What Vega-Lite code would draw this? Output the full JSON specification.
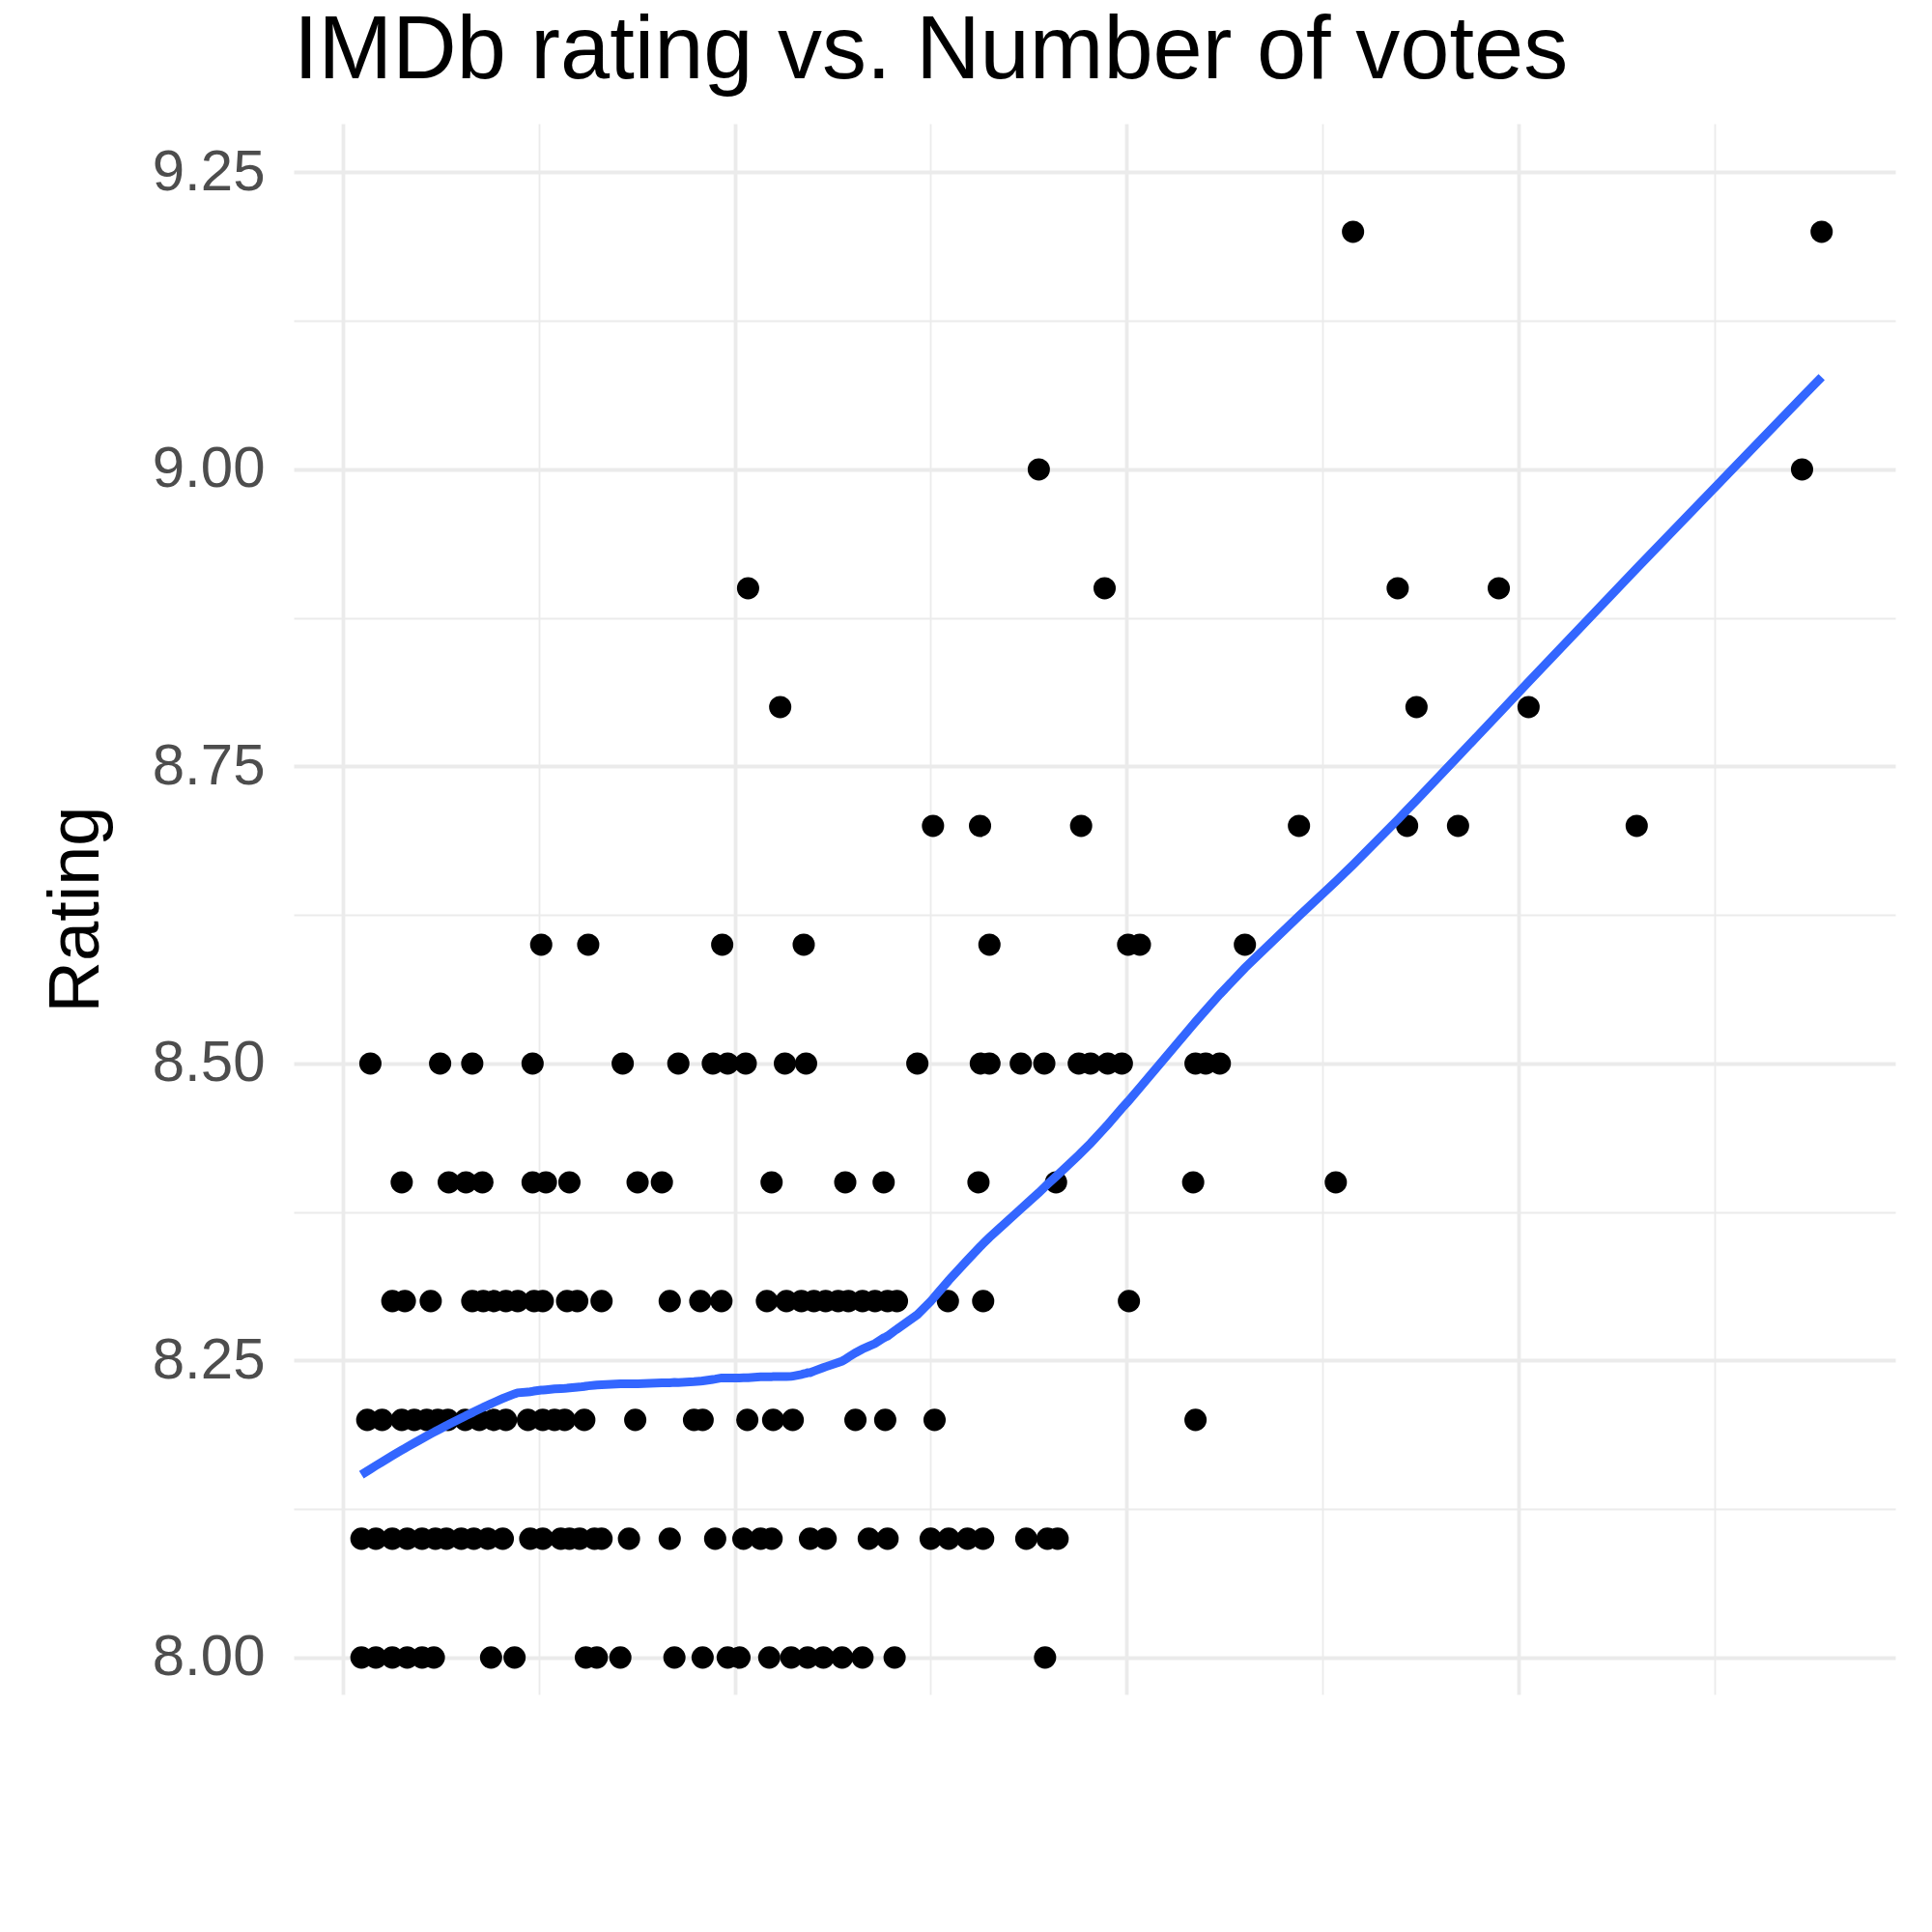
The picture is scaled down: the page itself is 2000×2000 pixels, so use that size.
{
  "$schema": "https://vega.github.io/schema/vega-lite/v6.json",
  "autosize": "none",
  "padding": {"left": 304, "top": 128, "right": 40, "bottom": 40},
  "width": 1658,
  "height": 1626,
  "background": "white",
  "config": {
    "view": {"stroke": null},
    "font": "Liberation Sans",
    "axis": {"domain": false, "ticks": false, "labelFont": "Liberation Sans", "titleFont": "Liberation Sans", "labelColor": "#4d4d4d", "labelFontSize": 60, "titleFontSize": 74, "titleFontWeight": "normal", "titleColor": "black", "gridColor": "#ebebeb"}
  },
  "title": {"text": "IMDb rating vs. Number of votes", "anchor": "start", "frame": "group", "fontSize": 92, "fontWeight": "normal", "font": "Liberation Sans", "offset": 28, "color": "black"},
  "data": {"values": [
    {"votes": 1289000, "rating": 9.2}, {"votes": 1887000, "rating": 9.2},
    {"votes": 888000, "rating": 9.0}, {"votes": 1862000, "rating": 9.0},
    {"votes": 517000, "rating": 8.9}, {"votes": 972000, "rating": 8.9}, {"votes": 1346000, "rating": 8.9}, {"votes": 1475000, "rating": 8.9},
    {"votes": 558000, "rating": 8.8}, {"votes": 1370000, "rating": 8.8}, {"votes": 1513000, "rating": 8.8},
    {"votes": 753000, "rating": 8.7}, {"votes": 813000, "rating": 8.7}, {"votes": 942000, "rating": 8.7}, {"votes": 1220000, "rating": 8.7}, {"votes": 1358000, "rating": 8.7}, {"votes": 1423000, "rating": 8.7}, {"votes": 1651000, "rating": 8.7},
    {"votes": 253000, "rating": 8.6}, {"votes": 313000, "rating": 8.6}, {"votes": 484000, "rating": 8.6}, {"votes": 588000, "rating": 8.6}, {"votes": 825000, "rating": 8.6}, {"votes": 1002000, "rating": 8.6}, {"votes": 1017000, "rating": 8.6}, {"votes": 1151000, "rating": 8.6},
    {"votes": 35000, "rating": 8.5}, {"votes": 124000, "rating": 8.5}, {"votes": 165000, "rating": 8.5}, {"votes": 242000, "rating": 8.5}, {"votes": 357000, "rating": 8.5}, {"votes": 428000, "rating": 8.5}, {"votes": 472000, "rating": 8.5}, {"votes": 491000, "rating": 8.5}, {"votes": 514000, "rating": 8.5}, {"votes": 564000, "rating": 8.5}, {"votes": 591000, "rating": 8.5}, {"votes": 733000, "rating": 8.5}, {"votes": 814000, "rating": 8.5}, {"votes": 825000, "rating": 8.5}, {"votes": 865000, "rating": 8.5}, {"votes": 895000, "rating": 8.5}, {"votes": 939000, "rating": 8.5}, {"votes": 954000, "rating": 8.5}, {"votes": 976000, "rating": 8.5}, {"votes": 994000, "rating": 8.5}, {"votes": 1088000, "rating": 8.5}, {"votes": 1101000, "rating": 8.5}, {"votes": 1119000, "rating": 8.5},
    {"votes": 75000, "rating": 8.4}, {"votes": 135000, "rating": 8.4}, {"votes": 157000, "rating": 8.4}, {"votes": 178000, "rating": 8.4}, {"votes": 242000, "rating": 8.4}, {"votes": 259000, "rating": 8.4}, {"votes": 289000, "rating": 8.4}, {"votes": 376000, "rating": 8.4}, {"votes": 407000, "rating": 8.4}, {"votes": 547000, "rating": 8.4}, {"votes": 641000, "rating": 8.4}, {"votes": 690000, "rating": 8.4}, {"votes": 811000, "rating": 8.4}, {"votes": 910000, "rating": 8.4}, {"votes": 1085000, "rating": 8.4}, {"votes": 1267000, "rating": 8.4},
    {"votes": 63000, "rating": 8.3}, {"votes": 79000, "rating": 8.3}, {"votes": 112000, "rating": 8.3}, {"votes": 165000, "rating": 8.3}, {"votes": 179000, "rating": 8.3}, {"votes": 192000, "rating": 8.3}, {"votes": 208000, "rating": 8.3}, {"votes": 223000, "rating": 8.3}, {"votes": 244000, "rating": 8.3}, {"votes": 255000, "rating": 8.3}, {"votes": 286000, "rating": 8.3}, {"votes": 299000, "rating": 8.3}, {"votes": 330000, "rating": 8.3}, {"votes": 417000, "rating": 8.3}, {"votes": 456000, "rating": 8.3}, {"votes": 483000, "rating": 8.3}, {"votes": 541000, "rating": 8.3}, {"votes": 566000, "rating": 8.3}, {"votes": 585000, "rating": 8.3}, {"votes": 601000, "rating": 8.3}, {"votes": 616000, "rating": 8.3}, {"votes": 632000, "rating": 8.3}, {"votes": 645000, "rating": 8.3}, {"votes": 663000, "rating": 8.3}, {"votes": 679000, "rating": 8.3}, {"votes": 695000, "rating": 8.3}, {"votes": 707000, "rating": 8.3}, {"votes": 772000, "rating": 8.3}, {"votes": 817000, "rating": 8.3}, {"votes": 1003000, "rating": 8.3},
    {"votes": 31000, "rating": 8.2}, {"votes": 50000, "rating": 8.2}, {"votes": 75000, "rating": 8.2}, {"votes": 91000, "rating": 8.2}, {"votes": 107000, "rating": 8.2}, {"votes": 121000, "rating": 8.2}, {"votes": 134000, "rating": 8.2}, {"votes": 156000, "rating": 8.2}, {"votes": 174000, "rating": 8.2}, {"votes": 192000, "rating": 8.2}, {"votes": 208000, "rating": 8.2}, {"votes": 236000, "rating": 8.2}, {"votes": 255000, "rating": 8.2}, {"votes": 270000, "rating": 8.2}, {"votes": 283000, "rating": 8.2}, {"votes": 308000, "rating": 8.2}, {"votes": 373000, "rating": 8.2}, {"votes": 448000, "rating": 8.2}, {"votes": 459000, "rating": 8.2}, {"votes": 516000, "rating": 8.2}, {"votes": 549000, "rating": 8.2}, {"votes": 574000, "rating": 8.2}, {"votes": 654000, "rating": 8.2}, {"votes": 692000, "rating": 8.2}, {"votes": 755000, "rating": 8.2}, {"votes": 1088000, "rating": 8.2},
    {"votes": 23600, "rating": 8.1}, {"votes": 42000, "rating": 8.1}, {"votes": 63000, "rating": 8.1}, {"votes": 82000, "rating": 8.1}, {"votes": 101000, "rating": 8.1}, {"votes": 118000, "rating": 8.1}, {"votes": 132000, "rating": 8.1}, {"votes": 151000, "rating": 8.1}, {"votes": 167000, "rating": 8.1}, {"votes": 185000, "rating": 8.1}, {"votes": 204000, "rating": 8.1}, {"votes": 239000, "rating": 8.1}, {"votes": 255000, "rating": 8.1}, {"votes": 278000, "rating": 8.1}, {"votes": 289000, "rating": 8.1}, {"votes": 302000, "rating": 8.1}, {"votes": 321000, "rating": 8.1}, {"votes": 330000, "rating": 8.1}, {"votes": 365000, "rating": 8.1}, {"votes": 417000, "rating": 8.1}, {"votes": 475000, "rating": 8.1}, {"votes": 511000, "rating": 8.1}, {"votes": 533000, "rating": 8.1}, {"votes": 547000, "rating": 8.1}, {"votes": 596000, "rating": 8.1}, {"votes": 616000, "rating": 8.1}, {"votes": 671000, "rating": 8.1}, {"votes": 695000, "rating": 8.1}, {"votes": 750000, "rating": 8.1}, {"votes": 773000, "rating": 8.1}, {"votes": 797000, "rating": 8.1}, {"votes": 817000, "rating": 8.1}, {"votes": 872000, "rating": 8.1}, {"votes": 899000, "rating": 8.1}, {"votes": 912000, "rating": 8.1},
    {"votes": 23600, "rating": 8.0}, {"votes": 42000, "rating": 8.0}, {"votes": 63000, "rating": 8.0}, {"votes": 82000, "rating": 8.0}, {"votes": 101000, "rating": 8.0}, {"votes": 116000, "rating": 8.0}, {"votes": 189000, "rating": 8.0}, {"votes": 219000, "rating": 8.0}, {"votes": 310000, "rating": 8.0}, {"votes": 324000, "rating": 8.0}, {"votes": 354000, "rating": 8.0}, {"votes": 423000, "rating": 8.0}, {"votes": 459000, "rating": 8.0}, {"votes": 491000, "rating": 8.0}, {"votes": 506000, "rating": 8.0}, {"votes": 544000, "rating": 8.0}, {"votes": 572000, "rating": 8.0}, {"votes": 593000, "rating": 8.0}, {"votes": 613000, "rating": 8.0}, {"votes": 637000, "rating": 8.0}, {"votes": 663000, "rating": 8.0}, {"votes": 704000, "rating": 8.0}, {"votes": 896000, "rating": 8.0}
  ]},
  "layer": [
    {
      "mark": {"type": "point", "filled": true, "opacity": 1, "color": "black", "size": 530},
      "encoding": {
        "x": {"field": "votes", "type": "quantitative", "scale": {"domain": [-62900, 1981000], "nice": false, "zero": false},
          "axis": {"orient": "bottom", "values": [0, 250000, 500000, 750000, 1000000, 1250000, 1500000, 1750000],
            "labelExpr": "datum.value % 500000 == 0 ? format(datum.value, 'd') : ''",
            "gridWidth": {"condition": {"test": "datum.value % 500000 == 0", "value": 3.8}, "value": 1.8},
            "title": "no.Votes", "labelPadding": 50, "titlePadding": 18}},
        "y": {"field": "rating", "type": "quantitative", "scale": {"domain": [7.969, 9.291], "nice": false, "zero": false},
          "axis": {"orient": "left", "values": [8, 8.125, 8.25, 8.375, 8.5, 8.625, 8.75, 8.875, 9, 9.125, 9.25],
            "labelExpr": "(datum.value * 4) % 1 == 0 ? format(datum.value, '.2f') : ''",
            "gridWidth": {"condition": {"test": "(datum.value * 4) % 1 == 0", "value": 3.8}, "value": 1.8},
            "title": "Rating", "labelPadding": 30, "titlePadding": 40}}
      }
    },
    {
      "transform": [{"loess": "rating", "on": "votes", "bandwidth": 0.45}],
      "mark": {"type": "line", "color": "#3366FF", "strokeWidth": 9},
      "encoding": {
        "x": {"field": "votes", "type": "quantitative"},
        "y": {"field": "rating", "type": "quantitative"}
      }
    }
  ]
}
